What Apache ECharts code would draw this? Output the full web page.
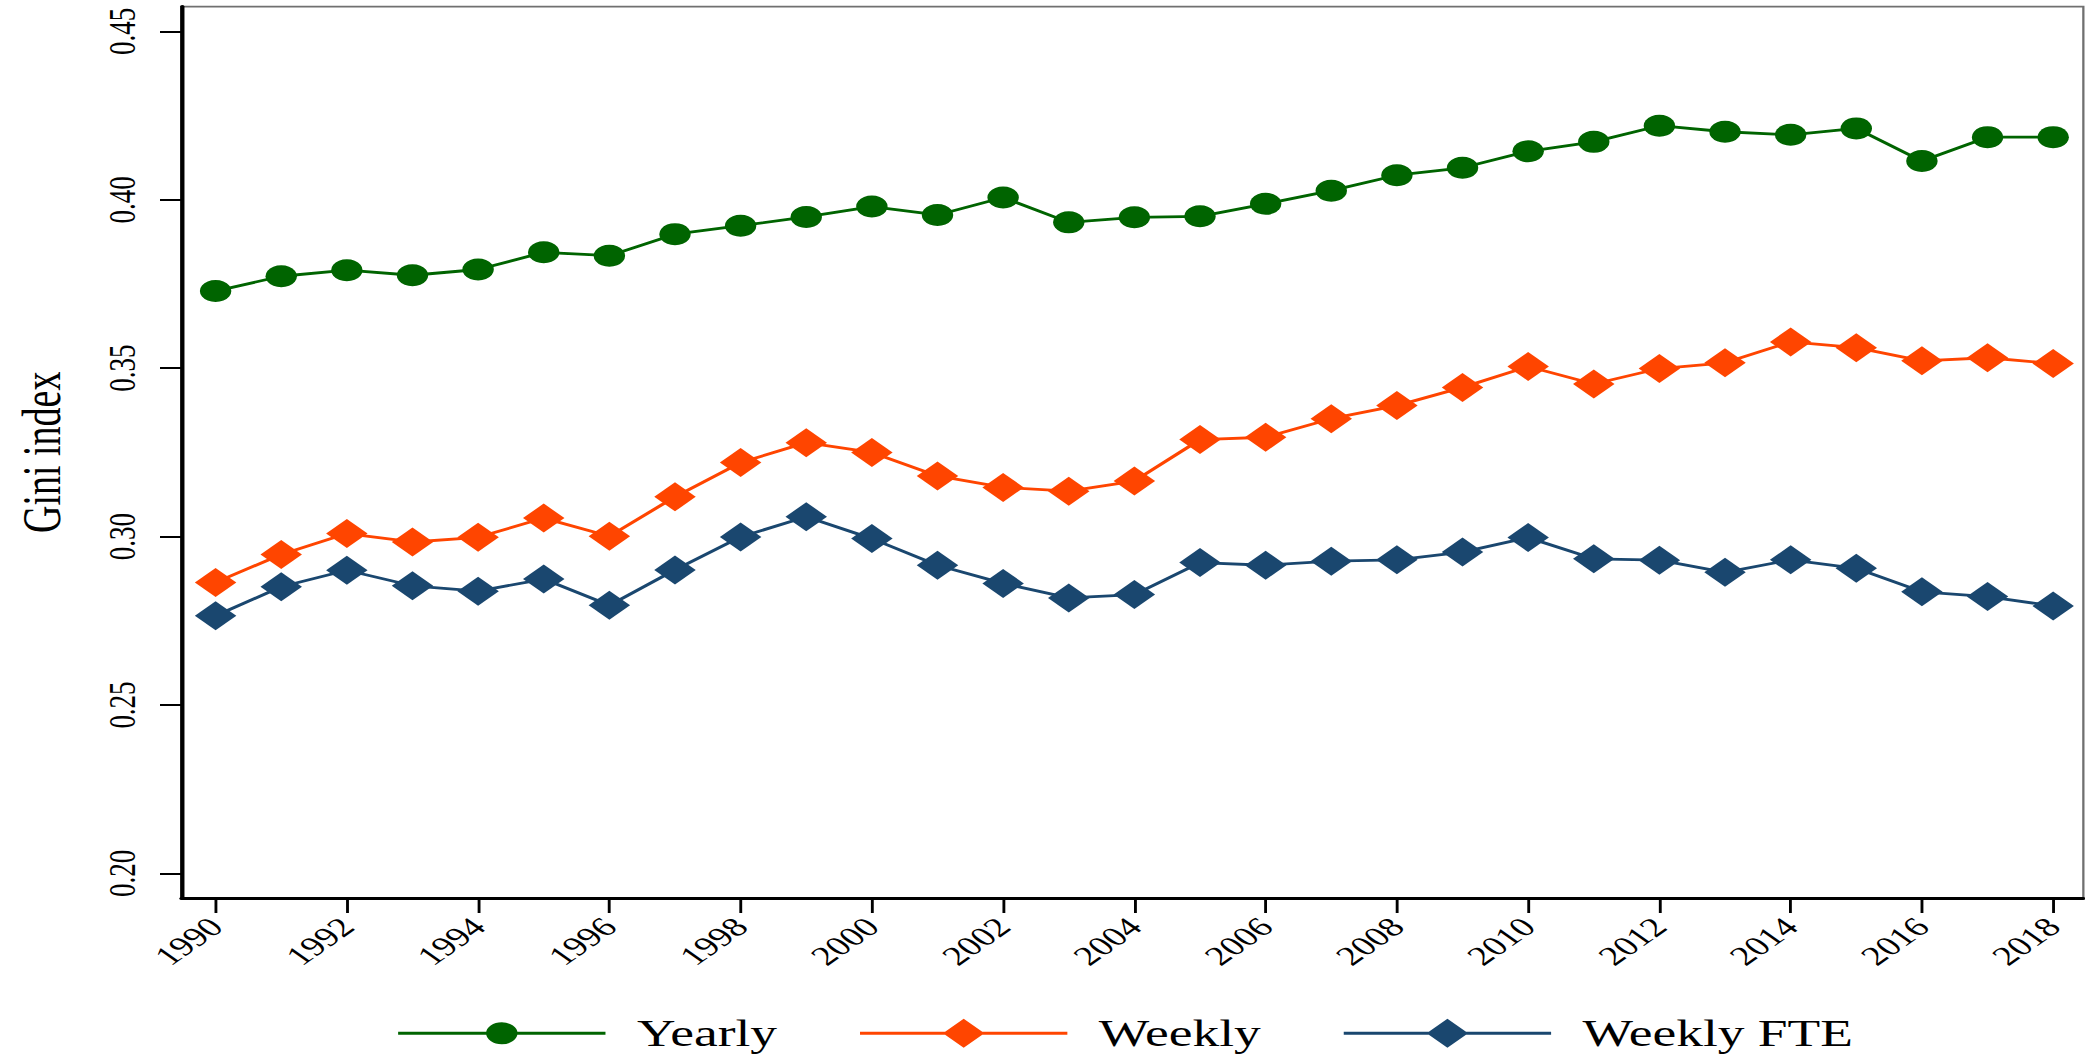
<!DOCTYPE html>
<html>
<head>
<meta charset="utf-8">
<title>Gini index, 1990-2018</title>
<script src="https://cdn.jsdelivr.net/npm/echarts@6/dist/echarts.min.js"></script>
<style>
  html, body { margin: 0; padding: 0; background: #ffffff; overflow: hidden; }
  #stage { width: 2085px; height: 1056px; overflow: hidden; position: relative; }
  /* the chart is laid out on a narrower canvas and widened horizontally */
  #chart { width: 1458px; height: 1056px; transform-origin: 0 0; transform: scaleX(1.430041); }
</style>
</head>
<body>
<div id="stage"><div id="chart"></div></div>
<script>
// Survey years
const years = [1990, 1991, 1992, 1993, 1994, 1995, 1996, 1997, 1998, 1999,
               2000, 2001, 2002, 2003, 2004, 2005, 2006, 2007, 2008, 2009,
               2010, 2011, 2012, 2013, 2014, 2015, 2016, 2017, 2018];

// Gini index of yearly earnings
const yearly = [0.3729, 0.3773, 0.3791, 0.3776, 0.3793, 0.3844, 0.3834, 0.3898, 0.3923, 0.3949,
                0.3980, 0.3955, 0.4007, 0.3933, 0.3948, 0.3951, 0.3988, 0.4027, 0.4073, 0.4095,
                0.4144, 0.4172, 0.4220, 0.4202, 0.4193, 0.4212, 0.4115, 0.4186, 0.4186];

// Gini index of weekly earnings
const weekly = [0.2864, 0.2947, 0.3009, 0.2984, 0.2998, 0.3055, 0.3001, 0.3118, 0.3220, 0.3279,
                0.3250, 0.3180, 0.3146, 0.3135, 0.3165, 0.3288, 0.3295, 0.3350, 0.3389, 0.3443,
                0.3505, 0.3453, 0.3499, 0.3516, 0.3578, 0.3561, 0.3522, 0.3531, 0.3514];

// Gini index of weekly earnings, full-time equivalent
const weeklyFTE = [0.2765, 0.2851, 0.2900, 0.2854, 0.2838, 0.2874, 0.2796, 0.2901, 0.2999, 0.3059,
                   0.2994, 0.2915, 0.2861, 0.2818, 0.2828, 0.2923, 0.2915, 0.2927, 0.2931, 0.2954,
                   0.2997, 0.2934, 0.2930, 0.2894, 0.2931, 0.2906, 0.2836, 0.2822, 0.2794];

// Axis tick labels
const yearTicks = [1990, 1992, 1994, 1996, 1998, 2000, 2002, 2004, 2006, 2008, 2010, 2012, 2014, 2016, 2018];
const giniTicks = [0.20, 0.25, 0.30, 0.35, 0.40, 0.45];

const seriesNames = ['Yearly', 'Weekly', 'Weekly FTE'];
const seriesColors = ['#006400', '#FF4500', '#1A476F'];

const FONT = '"Liberation Serif", "DejaVu Serif", serif';

// Legend keys: a short line with the series marker centred on it
const circleKey = 'path://M0,9.5H145V12.5H0Z M61.5,11A11,11,0,1,1,83.5,11A11,11,0,1,1,61.5,11Z';
const diamondKey = 'path://M0,13H145V16H0Z M72.5,0L87,14.5L72.5,29L58,14.5Z';

function pairs(values) {
  return years.map((y, i) => [y, values[i]]);
}

function lineSeries(idx, values, symbol, size) {
  return {
    name: seriesNames[idx],
    type: 'line',
    data: pairs(values),
    symbol: symbol,
    symbolSize: size,
    showSymbol: true,
    silent: true,
    animation: false,
    itemStyle: { color: seriesColors[idx], borderWidth: 0 },
    lineStyle: { color: seriesColors[idx], width: 2.8 },
    emphasis: { disabled: true }
  };
}

const chart = echarts.init(document.getElementById('chart'), null, {
  renderer: 'svg', width: 1458, height: 1056
});

chart.setOption({
  backgroundColor: '#ffffff',
  animation: false,
  grid: {
    left: 126.9,
    top: 6.6,
    width: 1329.95,
    height: 891.4,
    show: true,
    borderColor: '#707070',
    borderWidth: 1.6,
    backgroundColor: 'transparent',
    containLabel: false,
    outerBoundsMode: 'none'
  },
  xAxis: {
    type: 'value',
    min: 1989.48,
    max: 2018.46,
    axisLine: { show: true, onZero: false, lineStyle: { color: '#000000', width: 3 } },
    axisTick: {
      show: true, customValues: yearTicks, length: 15, inside: false,
      lineStyle: { color: '#000000', width: 2 }
    },
    axisLabel: {
      show: true, customValues: yearTicks, rotate: 45, margin: 24,
      fontFamily: FONT, fontSize: 27, color: '#000000',
      formatter: v => String(v)
    },
    splitLine: { show: false }
  },
  yAxis: {
    type: 'value',
    min: 0.1927,
    max: 0.45736,
    name: 'Gini index',
    nameLocation: 'middle',
    nameGap: 79,
    nameTextStyle: { fontFamily: FONT, fontSize: 38, color: '#000000' },
    axisLine: { show: true, onZero: false, lineStyle: { color: '#000000', width: 3 } },
    axisTick: {
      show: true, customValues: giniTicks, length: 15, inside: false,
      lineStyle: { color: '#000000', width: 2 }
    },
    axisLabel: {
      show: true, customValues: giniTicks, rotate: 90, margin: 28,
      fontFamily: FONT, fontSize: 27, color: '#000000',
      formatter: v => v.toFixed(2)
    },
    splitLine: { show: false }
  },
  legend: {
    show: true,
    orient: 'horizontal',
    left: 273.4,
    top: 1009.8,
    itemWidth: 145,
    itemHeight: 30,
    itemGap: 58,
    symbolKeepAspect: true,
    selectedMode: false,
    itemStyle: { borderWidth: 0 },
    textStyle: { fontFamily: FONT, fontSize: 37.4, color: '#000000', padding: [0, 0, 0, 17] },
    data: [
      { name: seriesNames[0], icon: circleKey },
      { name: seriesNames[1], icon: diamondKey },
      { name: seriesNames[2], icon: diamondKey }
    ]
  },
  series: [
    lineSeries(0, yearly, 'circle', 22),
    lineSeries(1, weekly, 'diamond', 29),
    lineSeries(2, weeklyFTE, 'diamond', 29)
  ]
});
</script>
</body>
</html>
